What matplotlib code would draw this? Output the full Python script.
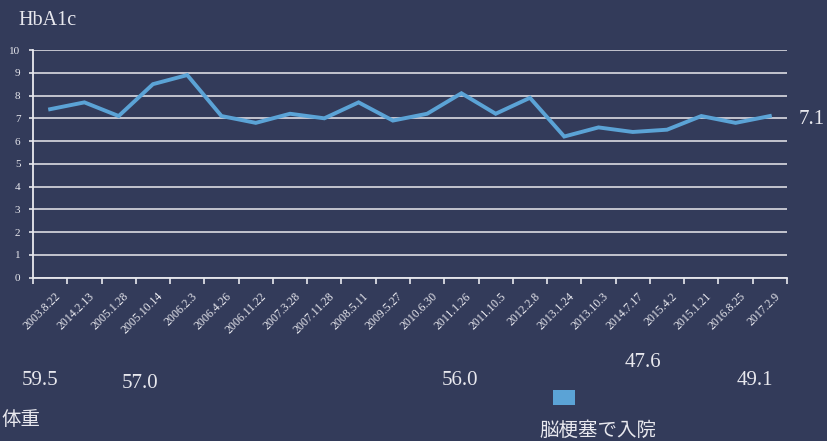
import matplotlib
matplotlib.use("Agg")
import matplotlib.pyplot as plt
import numpy as np

# HbA1c measurements by visit date
dates = ["2003.8.22", "2014.2.13", "2005.1.28", "2005.10.14", "2006.2.3", "2006.4.26",
         "2006.11.22", "2007.3.28", "2007.11.28", "2008.5.11", "2009.5.27", "2010.6.30",
         "2011.1.26", "2011.10.5", "2012.2.8", "2013.1.24", "2013.10.3", "2014.7.17",
         "2015.4.2", "2015.1.21", "2016.8.25", "2017.2.9"]
hba1c = [7.4, 7.7, 7.1, 8.5, 8.9, 7.1, 6.8, 7.2, 7.0, 7.7, 6.9, 7.2,
         8.1, 7.2, 7.9, 6.2, 6.6, 6.4, 6.5, 7.1, 6.8, 7.1]
y_ticks = list(range(0, 11))

# Body weight notes shown below the chart
weight_labels = ["59.5", "57.0", "56.0", "47.6", "49.1"]
weight_pos = [(0.048, 0.138), (0.169, 0.130), (0.556, 0.138), (0.777, 0.179), (0.912, 0.138)]

bg = "#333b5a"
fg = "#e8e8ee"
line_color = "#5ba3d6"
serif = ["Liberation Serif", "DejaVu Serif"]
cjk = ["Noto Sans CJK JP", "DejaVu Sans"]

fig = plt.figure(figsize=(8.28, 4.41), dpi=100, facecolor=bg)
ax = fig.add_axes([33 / 828, 1 - 277.7 / 441, (787 - 33) / 828, (277.7 - 50) / 441])
ax.set_facecolor(bg)

x = np.arange(len(dates))
ax.plot(x, hba1c, color=line_color, lw=2.8, solid_joinstyle="miter", zorder=3)

ax.set_xlim(-0.5, len(dates) - 0.5)
ax.set_ylim(0, 10)
ax.set_yticks(y_ticks)
ax.set_yticklabels([str(v) for v in y_ticks], fontfamily=serif, fontsize=8, color=fg)
ax.yaxis.grid(True, color="#cfcfd8", lw=1.3, zorder=1)
ax.set_axisbelow(True)

ax.set_xticks(np.arange(len(dates) + 1) - 0.5, minor=False)
ax.set_xticklabels([])
ax.set_xticks(x + 0.12, minor=True)
ax.set_xticklabels(dates, minor=True, rotation=45, ha="right", va="top",
                   rotation_mode="anchor", fontfamily=serif, fontsize=8.5, color=fg)
ax.tick_params(axis="x", which="major", length=4, color=fg, width=1.2, direction="out")
ax.tick_params(axis="x", which="minor", length=0, pad=9)
ax.tick_params(axis="y", length=3, color=fg, width=1.2, pad=6)

for side in ["top", "right"]:
    ax.spines[side].set_visible(False)
for side in ["left", "bottom"]:
    ax.spines[side].set_color(fg)
    ax.spines[side].set_linewidth(1.3)

fig.text(0.022, 0.953, "HbA1c", fontfamily=serif, fontsize=14.5, color=fg, ha="left", va="center")
fig.text(0.996, 0.730, f"{hba1c[-1]:.1f}", fontfamily=serif, fontsize=15, color=fg,
         ha="right", va="center")

for label, (px, py) in zip(weight_labels, weight_pos):
    fig.text(px, py, label, fontfamily=serif, fontsize=15, color=fg, ha="center", va="center")

fig.text(0.002, 0.048, "体重", fontfamily=cjk, fontsize=14, color=fg, ha="left", va="center")

# Marker for the stroke admission
fig.patches.append(plt.Rectangle((553 / 828, 1 - 405 / 441), 22 / 828, 15 / 441,
                                 transform=fig.transFigure, facecolor=line_color,
                                 edgecolor="none"))
fig.text(598 / 828, 1 - 430 / 441, "脳梗塞で入院", fontfamily=cjk, fontsize=14, color=fg,
         ha="center", va="center")

fig.savefig("out.png", dpi=100, facecolor=bg)
